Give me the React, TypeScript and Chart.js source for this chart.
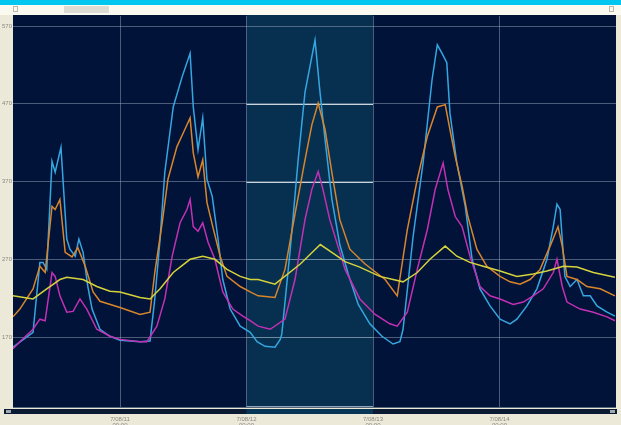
import { useEffect, useRef } from 'react';
import { Chart, registerables } from 'chart.js';

Chart.register(...registerables);

// ---- data (hours relative to 7/08/11 00:00) ----
const dayTicks = [0, 24, 48, 72];
const dayLabels = ['7/08/11', '7/08/12', '7/08/13', '7/08/14'];
const timeLabel = '00:00';
const yTicks = [170, 270, 370, 470, 570];
const highlightStart = 24;
const highlightEnd = 48;

const blueHours = [-20.3, -16.5, -15.2, -14.6, -13.9, -12.9, -12.3, -11.2, -10.1, -9.5, -8.5, -7.8, -7.0, -6.1, -5.3, -3.8, -1.9, 0, 3.8, 5.7, 6.6, 7.6, 8.5, 10.1, 11.8, 13.3, 13.9, 14.8, 15.7, 16.5, 17.5, 18.6, 19.5, 20.9, 22.8, 24.7, 26.0, 27.5, 29.4, 30.4, 30.7, 32.3, 33.8, 35.1, 37.0, 37.9, 38.9, 40.2, 41.7, 43.3, 45.2, 47.4, 49.7, 51.8, 53.1, 53.7, 55.6, 57.5, 59.2, 60.2, 61.1, 62.0, 62.6, 63.9, 65.5, 66.8, 68.3, 70.2, 72.1, 74.0, 75.3, 77.2, 79.1, 81.0, 82.2, 82.9, 83.5, 84.4, 85.4, 86.7, 87.9, 89.2, 90.5, 92.4, 93.9];
const blueValues = [157, 176, 266, 266, 257, 396, 382, 414, 296, 283, 274, 296, 279, 235, 206, 180, 171, 166, 164, 165, 219, 296, 382, 466, 505, 535, 466, 411, 452, 373, 351, 296, 244, 206, 184, 176, 164, 158, 157, 167, 174, 283, 398, 485, 552, 488, 424, 347, 289, 251, 212, 187, 171, 161, 164, 180, 299, 394, 501, 546, 535, 523, 458, 394, 338, 270, 232, 210, 193, 187, 193, 210, 232, 270, 312, 341, 334, 248, 235, 244, 223, 223, 210, 202, 197];

const orangeHours = [-20.3, -19.0, -16.5, -15.2, -14.2, -12.9, -12.3, -11.4, -10.4, -9.1, -8.0, -6.6, -5.1, -3.8, 0, 3.8, 5.7, 6.6, 8.0, 9.1, 10.8, 12.3, 13.3, 13.9, 14.8, 15.7, 16.5, 17.6, 19.0, 20.3, 22.8, 24.7, 26.2, 29.4, 31.3, 33.2, 35.1, 36.4, 37.6, 38.9, 40.4, 41.7, 43.6, 46.5, 50.3, 52.6, 54.5, 56.4, 58.3, 60.2, 61.7, 62.6, 63.6, 64.9, 66.0, 67.7, 69.6, 72.1, 74.0, 75.9, 77.8, 79.7, 81.6, 83.1, 83.9, 84.8, 86.7, 88.6, 91.1, 93.9];
const orangeValues = [196, 206, 232, 261, 253, 338, 334, 347, 279, 273, 285, 261, 228, 216, 208, 199, 202, 253, 317, 373, 415, 437, 452, 407, 376, 398, 343, 312, 274, 248, 235, 228, 223, 221, 257, 328, 398, 443, 471, 437, 373, 321, 283, 264, 244, 223, 308, 373, 428, 466, 469, 437, 402, 364, 325, 283, 261, 248, 241, 238, 244, 257, 287, 312, 287, 248, 244, 235, 232, 223];

const magentaHours = [-20.3, -19.0, -16.5, -15.2, -14.2, -12.9, -12.3, -11.4, -10.1, -8.9, -7.6, -6.3, -4.4, -1.9, 0, 3.8, 5.1, 7.0, 8.5, 9.9, 11.4, 12.7, 13.3, 13.9, 14.8, 15.7, 16.7, 18.0, 19.5, 21.4, 23.3, 24.7, 26.2, 28.5, 31.3, 33.2, 35.1, 36.4, 37.6, 38.5, 39.8, 42.7, 45.5, 48.4, 51.2, 52.6, 54.5, 56.4, 58.3, 59.8, 61.3, 62.2, 63.6, 64.9, 66.4, 68.3, 70.2, 72.1, 74.6, 76.5, 78.4, 80.3, 82.2, 82.9, 83.9, 84.8, 87.3, 89.8, 92.4, 93.9];
const magentaValues = [155, 164, 180, 193, 191, 253, 248, 223, 202, 203, 219, 206, 180, 171, 167, 164, 164, 184, 219, 274, 317, 334, 347, 312, 306, 317, 292, 270, 228, 206, 197, 191, 184, 180, 193, 244, 321, 360, 383, 360, 321, 257, 219, 199, 187, 184, 202, 257, 308, 360, 394, 360, 325, 312, 274, 235, 223, 219, 212, 215, 223, 232, 253, 270, 235, 215, 206, 202, 196, 191];

const yellowHours = [-20.3, -16.5, -13.9, -11.4, -10.1, -7.0, -4.4, -1.9, 0, 3.8, 5.7, 7.6, 10.1, 13.3, 15.7, 18.0, 20.3, 22.8, 24.7, 26.2, 29.4, 34.2, 38.0, 40.8, 42.7, 45.5, 49.3, 53.7, 56.4, 58.8, 61.7, 63.9, 66.4, 68.9, 72.1, 75.3, 78.4, 81.0, 84.1, 86.7, 89.8, 93.9];
const yellowValues = [223, 219, 232, 244, 247, 244, 235, 229, 228, 221, 219, 232, 253, 270, 274, 270, 257, 248, 244, 244, 238, 264, 289, 276, 267, 260, 248, 241, 253, 270, 287, 274, 266, 261, 255, 248, 251, 255, 261, 260, 253, 247];

const seriesColors = ['#36a6e0', '#d9852c', '#c430b4', '#d6d23c'];

const toPoints = (hours: number[], values: number[]) =>
  hours.map((h, i) => ({ x: h, y: values[i] }));

const backdrop = {
  id: 'backdrop',
  beforeDraw(chart: any) {
    const { ctx, chartArea: a, width, height, scales } = chart;
    ctx.save();
    ctx.fillStyle = '#ece9d8';
    ctx.fillRect(0, 0, width, height);
    ctx.fillStyle = '#00c6f0';
    ctx.fillRect(0, 0, width, 5);
    ctx.fillStyle = '#fbfaf0';
    ctx.fillRect(0, 5, width, 10);
    ctx.fillStyle = '#dcdcd4';
    ctx.fillRect(64, 6, 45, 7);
    ctx.strokeStyle = '#b8b8b0';
    ctx.strokeRect(13.5, 6.5, 4, 5);
    ctx.strokeRect(609.5, 6.5, 4, 5);
    ctx.fillStyle = '#011339';
    ctx.fillRect(a.left, a.top - 1, a.right - a.left, a.bottom - a.top + 1);
    const x0 = scales.x.getPixelForValue(highlightStart);
    const x1 = scales.x.getPixelForValue(highlightEnd);
    ctx.fillStyle = '#062f50';
    ctx.fillRect(x0, a.top - 1, x1 - x0, a.bottom - a.top + 1);
    ctx.fillStyle = '#56677c';
    ctx.fillRect(a.left, a.bottom, a.right - a.left, 1);
    ctx.fillStyle = '#0b1b33';
    ctx.fillRect(4, a.bottom + 2, width - 8, 5);
    ctx.fillStyle = '#a0a8b0';
    ctx.fillRect(6, a.bottom + 3, 5, 3);
    ctx.fillRect(width - 11, a.bottom + 3, 5, 3);
    ctx.fillStyle = '#083656';
    ctx.fillRect(x0, a.bottom + 2, x1 - x0, 5);
    ctx.restore();
  },
  beforeDatasetsDraw(chart: any) {
    const { ctx, scales } = chart;
    const x0 = scales.x.getPixelForValue(highlightStart);
    const x1 = scales.x.getPixelForValue(highlightEnd);
    ctx.save();
    ctx.lineWidth = 1;
    yTicks.forEach((v, i) => {
      if (i === yTicks.length - 1) return;
      const y = Math.round(scales.y.getPixelForValue(v)) + 0.5;
      ctx.strokeStyle = v >= 370 ? '#c9d3dc' : '#6f8aa0';
      ctx.beginPath();
      ctx.moveTo(x0, y);
      ctx.lineTo(x1, y);
      ctx.stroke();
    });
    ctx.strokeStyle = '#8fa6b8';
    const yb = Math.round(chart.chartArea.bottom) - 0.5;
    ctx.beginPath();
    ctx.moveTo(x0, yb);
    ctx.lineTo(x1, yb);
    ctx.stroke();
    ctx.restore();
  },
};

export default function App() {
  const ref = useRef<HTMLCanvasElement | null>(null);

  useEffect(() => {
    if (!ref.current) return;
    const mk = (hours: number[], values: number[], color: string) => ({
      data: toPoints(hours, values),
      borderColor: color,
      backgroundColor: color,
      borderWidth: 1.5,
      pointRadius: 0,
      tension: 0,
      fill: false,
    });
    const chart = new Chart(ref.current, {
      type: 'line',
      data: {
        datasets: [
          mk(yellowHours, yellowValues, seriesColors[3]),
          mk(orangeHours, orangeValues, seriesColors[1]),
          mk(magentaHours, magentaValues, seriesColors[2]),
          mk(blueHours, blueValues, seriesColors[0]),
        ],
      },
      options: {
        animation: false,
        responsive: false,
        maintainAspectRatio: false,
        layout: { padding: { top: 16, right: 5, left: 0, bottom: 0 } },
        plugins: { legend: { display: false }, tooltip: { enabled: false } },
        scales: {
          x: {
            type: 'linear',
            min: -20.3,
            max: 94.1,
            afterBuildTicks: (s: any) => {
              s.ticks = dayTicks.map((v) => ({ value: v }));
            },
            afterFit: (s: any) => {
              s.height = 18;
            },
            ticks: {
              autoSkip: false,
              maxRotation: 0,
              padding: 9,
              color: '#8a8a84',
              font: { size: 6, family: 'Liberation Sans', lineHeight: 1 },
              callback: (v: any) => {
                const i = dayTicks.indexOf(Number(v));
                return i >= 0 ? [dayLabels[i], timeLabel] : '';
              },
            },
            grid: { color: 'rgba(150,165,185,0.5)', drawTicks: false, lineWidth: 1 },
            border: { display: false },
          },
          y: {
            type: 'linear',
            min: 80,
            max: 583,
            afterBuildTicks: (s: any) => {
              s.ticks = yTicks.map((v) => ({ value: v }));
            },
            afterFit: (s: any) => {
              s.width = 13;
            },
            ticks: {
              padding: 1,
              color: '#8a8a84',
              font: { size: 6, family: 'Liberation Sans' },
              callback: (v: any) => String(v),
            },
            grid: { color: 'rgba(150,165,185,0.5)', drawTicks: false, lineWidth: 1 },
            border: { display: false },
          },
        },
      },
      plugins: [backdrop],
    } as any);
    return () => chart.destroy();
  }, []);

  return (
    <div style={{ position: 'fixed', left: 0, top: 0, width: 621, height: 425 }}>
      <canvas ref={ref} width={621} height={425} style={{ display: 'block', width: 621, height: 425 }} />
    </div>
  );
}
